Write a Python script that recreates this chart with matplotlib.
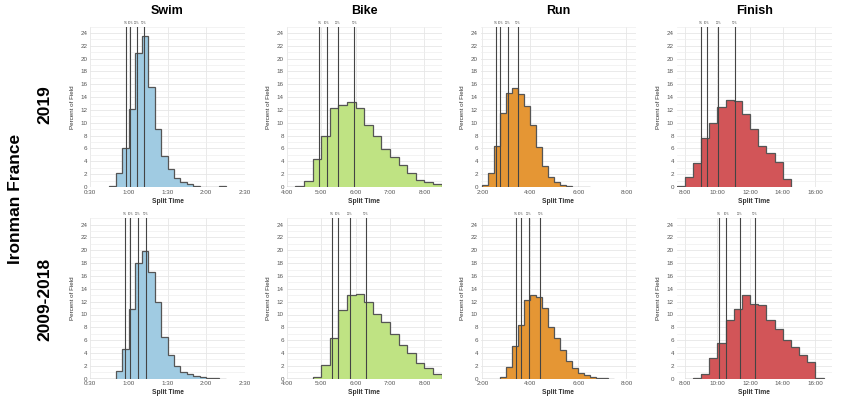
import numpy as np
import matplotlib
matplotlib.use('Agg')
import matplotlib.pyplot as plt
from matplotlib.ticker import MultipleLocator, FixedLocator, FuncFormatter

plt.rcParams['font.family'] = ['Liberation Sans', 'DejaVu Sans']

events = ['Swim', 'Bike', 'Run', 'Finish']
rows = ['2019', '2009-2018']
pct_labels = ['5%', '10%', '25%', '50%']
colors = ['#a0cbe2', '#bfe383', '#e59634', '#d25558']

# percent of field per bin, bins in minutes (start, width)
swim_2019_start, swim_2019_width = 45, 5
swim_2019 = [0.15, 2.2, 6.0, 12.1, 20.9, 23.5, 15.6, 9.0, 4.9, 2.75, 1.4, 0.8, 0.5, 0.2, 0.05, 0.05, 0.05, 0.15]
swim_2019_pct = [58.1, 61.1, 66.3, 71.6]
swim_all_start, swim_all_width = 30, 5
swim_all = [0, 0, 0, 0, 1.15, 4.6, 10.8, 18.0, 19.9, 16.6, 11.9, 6.5, 3.7, 2.0, 1.1, 0.7, 0.4, 0.25, 0.1, 0.05, 0.03]
swim_all_pct = [57.1, 61.1, 66.8, 73.4]

bike_2019_start, bike_2019_width = 240, 15
bike_2019 = [0.05, 0.2, 1.0, 4.4, 7.9, 12.3, 12.8, 13.3, 12.3, 9.6, 7.9, 5.9, 4.7, 3.4, 2.2, 1.1, 0.8, 0.4]
bike_2019_pct = [297, 310, 329, 358]
bike_all_start, bike_all_width = 240, 15
bike_all = [0.02, 0.02, 0.02, 0.2, 2.2, 6.4, 10.7, 13.0, 13.2, 12.0, 10.1, 8.9, 7.0, 5.3, 4.0, 2.5, 1.65, 0.8]
bike_all_pct = [318.6, 329, 350, 378]

run_2019_start, run_2019_width = 120, 15
run_2019 = [0.35, 2.2, 6.4, 11.6, 14.7, 15.4, 14.5, 12.6, 9.7, 6.2, 3.3, 1.55, 0.8, 0.25, 0.15, 0.05, 0.05, 0.05]
run_2019_pct = [154.3, 165.2, 183.6, 208.8]
run_all_start, run_all_width = 120, 15
run_all = [0, 0, 0, 0.2, 1.8, 5.1, 8.4, 12.3, 13.1, 12.7, 11.0, 8.1, 6.3, 4.4, 2.7, 1.6, 0.9, 0.5, 0.2, 0.1, 0.05, 0.03]
run_all_pct = [202.9, 215.5, 235.6, 264.9]

finish_2019_start, finish_2019_width = 450, 30
finish_2019 = [0.2, 1.6, 3.8, 7.7, 10.0, 12.5, 13.6, 13.4, 11.4, 9.0, 6.4, 5.3, 3.9, 1.3]
finish_2019_pct = [538.6, 560.6, 603, 663]
finish_all_start, finish_all_width = 480, 30
finish_all = [0, 0.1, 0.75, 3.2, 5.6, 9.1, 10.9, 13.0, 11.6, 11.5, 9.2, 7.8, 6.0, 4.9, 3.7, 2.6, 0.1]
finish_all_pct = [606.8, 632.4, 681.2, 738.5]

data = [
    [(swim_2019_start, swim_2019_width, swim_2019, swim_2019_pct),
     (bike_2019_start, bike_2019_width, bike_2019, bike_2019_pct),
     (run_2019_start, run_2019_width, run_2019, run_2019_pct),
     (finish_2019_start, finish_2019_width, finish_2019, finish_2019_pct)],
    [(swim_all_start, swim_all_width, swim_all, swim_all_pct),
     (bike_all_start, bike_all_width, bike_all, bike_all_pct),
     (run_all_start, run_all_width, run_all, run_all_pct),
     (finish_all_start, finish_all_width, finish_all, finish_all_pct)],
]

xlims = [(30, 150), (240, 510), (116, 503), (450, 1020)]
xticks = [[30, 60, 90, 120, 150], [240, 300, 360, 420, 480], [120, 240, 360, 480], [480, 600, 720, 840, 960]]

def fmt_time(v, pos=None):
    v = int(round(v))
    return '%d:%02d' % (v // 60, v % 60)

fig = plt.figure(figsize=(8.5, 3.99), dpi=100)
lefts = [90, 286.7, 480.7, 676.7]
bottoms = [187, 378.7]
W, H = 850, 399

for r in range(2):
    for c in range(4):
        ax = fig.add_axes([lefts[c] / W, 1 - bottoms[r] / H, 155 / W, 160.5 / H])
        start, width, vals, pct = data[r][c]
        edges = start + width * np.arange(len(vals) + 1)
        ax.stairs(vals, edges, fill=True, color=colors[c], zorder=2)
        ax.stairs(vals, edges, color='#555555', lw=0.9, zorder=3)
        for p, lab in zip(pct, pct_labels):
            ax.axvline(p, color='#444444', lw=0.8, zorder=4)
            ax.text(p, 25.3, lab, fontsize=2.0, ha='center', va='bottom', color='#555555')
        ax.set_xlim(*xlims[c])
        ax.set_ylim(0, 25)
        ax.xaxis.set_major_locator(FixedLocator(xticks[c]))
        ax.xaxis.set_major_formatter(FuncFormatter(fmt_time))
        ax.yaxis.set_major_locator(MultipleLocator(2))
        ax.yaxis.set_minor_locator(MultipleLocator(1))
        ax.grid(True, which='major', color='#e6e6e6', lw=0.6, zorder=0)
        ax.grid(True, which='minor', axis='y', color='#eeeeee', lw=0.5, zorder=0)
        for s in ax.spines.values():
            s.set_visible(False)
        ax.tick_params(which='both', length=0, labelsize=4.5, labelcolor='#555555', pad=2)
        ax.set_xlabel('Split Time', fontsize=4.8, fontweight='bold', color='#333333', labelpad=2)
        ax.set_ylabel('Percent of Field', fontsize=4.5, color='#333333', labelpad=4)
        if r == 0:
            ax.set_title(events[c], fontsize=9, fontweight='bold', pad=9)

fig.text(45 / W, 1 - 105 / H, rows[0], rotation=90, fontsize=12.5, fontweight='bold', ha='center', va='center')
fig.text(45 / W, 1 - 299 / H, rows[1], rotation=90, fontsize=12.5, fontweight='bold', ha='center', va='center')
fig.text(16 / W, 1 - 199 / H, 'Ironman France', rotation=90, fontsize=12.5, fontweight='bold', ha='center', va='center')

fig.savefig('out.png', dpi=100)
